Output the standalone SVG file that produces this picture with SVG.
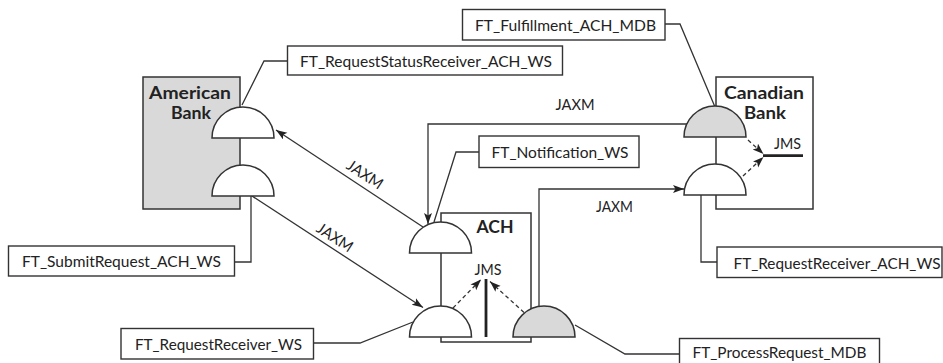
<svg xmlns="http://www.w3.org/2000/svg" width="943" height="363" viewBox="0 0 943 363">
<style>
.box{fill:#fff;stroke:#333;stroke-width:1.4}
.bank{stroke:#333;stroke-width:1.5}
.semi{fill:#fff;stroke:#333;stroke-width:1.5}
.gray{fill:#d9d9d9}
.ln{fill:none;stroke:#333;stroke-width:1.3}
.dash{fill:none;stroke:#333;stroke-width:1.3;stroke-dasharray:4 3}
.thick{stroke:#222;stroke-width:2.8}
.t{font-family:Lato,"Open Sans","DejaVu Sans",sans-serif;font-size:15.5px;fill:#222;text-anchor:middle}
.b{font-family:Lato,"Open Sans","DejaVu Sans",sans-serif;font-size:16.5px;font-weight:bold;fill:#222;text-anchor:middle}
</style>
<defs>
<marker id="ah" markerUnits="userSpaceOnUse" markerWidth="12" markerHeight="9" refX="11" refY="4" orient="auto">
<path d="M0,0 L11,4 L0,8 L2.5,4 Z" fill="#222"/>
</marker>
</defs>

<g id="american-bank">
<rect class="bank gray" x="143" y="77" width="97" height="132"/>
<text class="b" x="190" y="99" textLength="82" lengthAdjust="spacingAndGlyphs">American</text>
<text class="b" x="191" y="119" textLength="40" lengthAdjust="spacingAndGlyphs">Bank</text>
</g>
<g id="ach">
<rect class="bank" fill="#fff" x="441" y="213" width="90" height="129"/>
<text class="b" x="495" y="232.5" textLength="37" lengthAdjust="spacingAndGlyphs">ACH</text>
<text class="t" x="488" y="275" textLength="27" lengthAdjust="spacingAndGlyphs">JMS</text>
<line class="thick" x1="486" y1="279" x2="486" y2="337"/>
</g>
<g id="canadian-bank">
<rect class="bank" fill="#fff" x="716" y="77" width="97" height="132"/>
<text class="b" x="764" y="98.5" textLength="80" lengthAdjust="spacingAndGlyphs">Canadian</text>
<text class="b" x="765" y="119" textLength="42" lengthAdjust="spacingAndGlyphs">Bank</text>
<text class="t" x="787.5" y="149" textLength="27" lengthAdjust="spacingAndGlyphs">JMS</text>
<line class="thick" x1="763" y1="155.7" x2="803" y2="155.7"/>
</g>

<g id="connectors">
<polyline class="ln" points="287,61 264,61 242,105"/>
<polyline class="ln" points="251,196 251,262 235,262"/>
<polyline class="ln" points="314,343 360,343 413,322"/>
<polyline class="ln" points="479,152 456,152 434,222"/>
<polyline class="ln" points="665,24 680,24 715,107"/>
<polyline class="ln" points="701,195 701,262 717,262"/>
<polyline class="ln" points="575,325 625,354 679,354"/>
<line class="ln" x1="423" y1="227" x2="276" y2="130" marker-end="url(#ah)"/>
<line class="ln" x1="252" y1="196" x2="423" y2="307.5" marker-end="url(#ah)"/>
<polyline class="ln" points="690,124 428,124 428,224" marker-end="url(#ah)"/>
<polyline class="ln" points="539,306 539,189 684,189" marker-end="url(#ah)"/>
<line class="dash" x1="453" y1="308" x2="481" y2="279.5" marker-end="url(#ah)"/>
<line class="dash" x1="524" y1="312.5" x2="490" y2="281.5" marker-end="url(#ah)"/>
<line class="dash" x1="748" y1="140" x2="763.5" y2="154" marker-end="url(#ah)"/>
<line class="dash" x1="743" y1="176" x2="763.5" y2="157" marker-end="url(#ah)"/>
<text class="t" x="575" y="110" textLength="39" lengthAdjust="spacingAndGlyphs">JAXM</text>
<text class="t" x="614.5" y="212" textLength="37" lengthAdjust="spacingAndGlyphs">JAXM</text>
<text class="t" transform="translate(362,179) rotate(33.5)" textLength="40" lengthAdjust="spacingAndGlyphs">JAXM</text>
<text class="t" transform="translate(332,242) rotate(33)" textLength="40" lengthAdjust="spacingAndGlyphs">JAXM</text>
</g>

<g id="ab-status-receiver"><path class="semi" d="M212,138 A31,31 0 0 1 274,138 Z"/></g>
<g id="ab-submit"><path class="semi" d="M212,196 A31,31 0 0 1 274,196 Z"/></g>
<g id="ach-notification"><path class="semi" d="M409.5,253 A31,31 0 0 1 471.5,253 Z"/></g>
<g id="ach-request-receiver"><path class="semi" d="M409.5,337 A31,31 0 0 1 471.5,337 Z"/></g>
<g id="ach-process-request"><path class="semi gray" d="M513,337 A31,31 0 0 1 575,337 Z"/></g>
<g id="cb-fulfillment"><path class="semi gray" d="M684,137 A31,31 0 0 1 746,137 Z"/></g>
<g id="cb-request-receiver"><path class="semi" d="M684,195 A31,31 0 0 1 746,195 Z"/></g>

<g id="lbl-status-receiver">
<rect class="box" x="287.5" y="46" width="275" height="29"/>
<text class="t" x="426" y="67" textLength="252" lengthAdjust="spacingAndGlyphs">FT_RequestStatusReceiver_ACH_WS</text>
</g>
<g id="lbl-fulfillment">
<rect class="box" x="462.5" y="9.5" width="202.5" height="30.5"/>
<text class="t" x="565.5" y="31" textLength="181" lengthAdjust="spacingAndGlyphs">FT_Fulfillment_ACH_MDB</text>
</g>
<g id="lbl-notification">
<rect class="box" x="479" y="136" width="160" height="31.5"/>
<text class="t" x="560" y="158" textLength="137" lengthAdjust="spacingAndGlyphs">FT_Notification_WS</text>
</g>
<g id="lbl-submit">
<rect class="box" x="8.5" y="246" width="226" height="30"/>
<text class="t" x="121.5" y="267" textLength="199" lengthAdjust="spacingAndGlyphs">FT_SubmitRequest_ACH_WS</text>
</g>
<g id="lbl-request-receiver-ws">
<rect class="box" x="121" y="328.5" width="192.5" height="30.5"/>
<text class="t" x="218.5" y="350" textLength="167" lengthAdjust="spacingAndGlyphs">FT_RequestReceiver_WS</text>
</g>
<g id="lbl-request-receiver-ach">
<rect class="box" x="717" y="247" width="225" height="30.5"/>
<text class="t" x="837" y="268.5" textLength="207" lengthAdjust="spacingAndGlyphs">FT_RequestReceiver_ACH_WS</text>
</g>
<g id="lbl-process-request">
<rect class="box" x="679.5" y="338.5" width="200" height="30"/>
<text class="t" x="779.5" y="358" textLength="174" lengthAdjust="spacingAndGlyphs">FT_ProcessRequest_MDB</text>
</g>
</svg>
